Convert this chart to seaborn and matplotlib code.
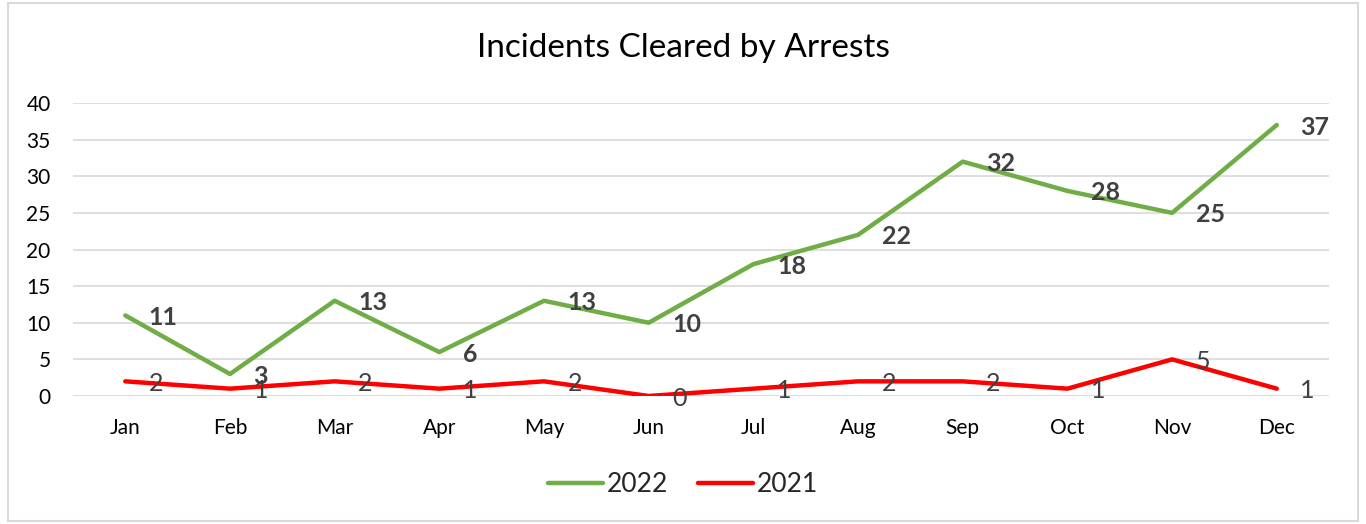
"""Incidents cleared by arrests, 2022 vs 2021."""

import matplotlib

matplotlib.use("Agg")

import matplotlib.pyplot as plt
import pandas as pd
import seaborn as sns
from matplotlib.patches import Rectangle

months = ["Jan", "Feb", "Mar", "Apr", "May", "Jun",
          "Jul", "Aug", "Sep", "Oct", "Nov", "Dec"]
cleared_2022 = [11, 3, 13, 6, 13, 10, 18, 22, 32, 28, 25, 37]
cleared_2021 = [2, 1, 2, 1, 2, 0, 1, 2, 2, 1, 5, 1]

series = [
    ("2022", cleared_2022, "#70AD47", "bold"),
    ("2021", cleared_2021, "#FF0000", "normal"),
]

sns.set_theme(style="white")
plt.rcParams["font.family"] = ["Lato", "DejaVu Sans"]

fig = plt.figure(figsize=(13.66, 5.24), dpi=100)
ax = fig.add_axes([0.0534, 0.2443, 0.9196, 0.5591])

for name, values, color, weight in series:
    df = pd.DataFrame({"month": months, "count": values})
    sns.lineplot(data=df, x="month", y="count", ax=ax, color=color,
                 linewidth=3.2, label=name, sort=False,
                 solid_capstyle="round", solid_joinstyle="round")
    for i, v in enumerate(values):
        ax.annotate(str(v), (i, v), xytext=(17, -1.5), textcoords="offset points",
                    ha="left", va="center", fontsize=18,
                    fontweight=weight, color="#404040")

ax.set_xlim(-0.5, len(months) - 0.5)
ax.set_ylim(0, 40)
ax.set_yticks(range(0, 41, 5))
ax.yaxis.grid(True, color="#D9D9D9", linewidth=1.2)
ax.set_axisbelow(True)
for side in ["left", "right", "top", "bottom"]:
    ax.spines[side].set_visible(False)
ax.tick_params(axis="both", labelsize=15, colors="#000000", length=0)
ax.tick_params(axis="x", pad=16)
ax.tick_params(axis="y", pad=16)
ax.set_xlabel("")
ax.set_ylabel("")

fig.text(0.5, 1 - 48 / 524, "Incidents Cleared by Arrests", ha="center", va="center",
         fontsize=24, color="#000000")

leg = ax.legend(loc="center", ncol=2, frameon=False, fontsize=19, handlelength=2.1,
                handletextpad=0.15, columnspacing=1.1)
leg.set_bbox_to_anchor((0.5, 1 - 485 / 524), transform=fig.transFigure)

fig.patches.append(Rectangle((0.006, 0.006), 0.988, 0.988, transform=fig.transFigure,
                             fill=False, edgecolor="#D9D9D9", linewidth=1.5))

fig.savefig("out.png", dpi=100)
plt.close(fig)
